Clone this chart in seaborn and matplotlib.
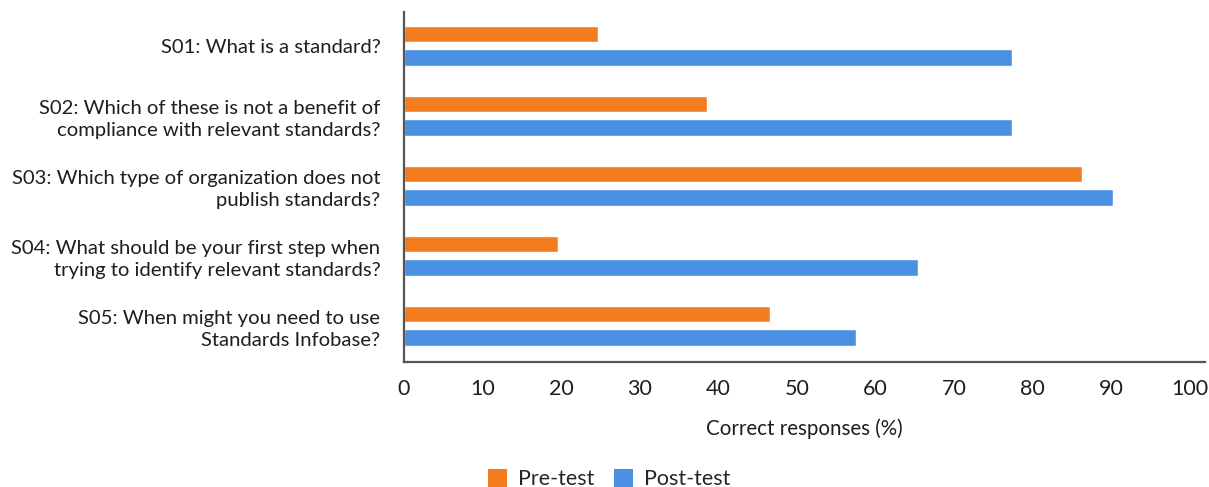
import matplotlib
matplotlib.use("Agg")
import matplotlib.pyplot as plt
import seaborn as sns
import pandas as pd
from matplotlib.patches import Patch

questions = [
    "S01: What is a standard?",
    "S02: Which of these is not a benefit of\ncompliance with relevant standards?",
    "S03: Which type of organization does not\npublish standards?",
    "S04: What should be your first step when\ntrying to identify relevant standards?",
    "S05: When might you need to use\nStandards Infobase?",
]
pre_test = [24.7, 38.5, 86.2, 19.6, 46.5]
post_test = [77.3, 77.3, 90.2, 65.4, 57.5]
series = ["Pre-test", "Post-test"]
colors = ["#F47C20", "#4A90E2"]
x_ticks = [0, 10, 20, 30, 40, 50, 60, 70, 80, 90, 100]

df = pd.DataFrame({
    "question": questions * 2,
    "value": pre_test + post_test,
    "test": [series[0]] * len(questions) + [series[1]] * len(questions),
})

sns.set_theme(style="white")
plt.rcParams["font.family"] = ["Lato", "DejaVu Sans"]
text_color = "#1e1e1e"

fig = plt.figure(figsize=(12.09, 4.87), dpi=100)
ax = fig.add_axes([404 / 1209, 1 - 362 / 487, (1205 - 404) / 1209, (362 - 12) / 487])

sns.barplot(data=df, x="value", y="question", hue="test", orient="h",
            palette=colors, width=0.66, gap=0.27, legend=False, ax=ax,
            saturation=1.0)

ax.set_xlim(0, 101.9)
ax.set_ylim(4.52, -0.48)
ax.set_xticks(x_ticks)
ax.set_xticklabels([str(t) for t in x_ticks], fontsize=15.5, color=text_color)
ax.tick_params(axis="y", labelsize=14.6, colors=text_color, length=0, pad=17)
ax.tick_params(axis="x", length=0, pad=12)
for lbl in ax.get_yticklabels():
    lbl.set_horizontalalignment("right")
    lbl.set_multialignment("right")
    lbl.set_linespacing(1.32)
ax.set_ylabel("")
ax.set_xlabel("Correct responses (%)", fontsize=14.8, color=text_color, labelpad=14)

for side in ["top", "right"]:
    ax.spines[side].set_visible(False)
for side in ["left", "bottom"]:
    ax.spines[side].set_color("#555555")
    ax.spines[side].set_linewidth(1.6)

handles = [Patch(facecolor=c, edgecolor="none", label=s) for c, s in zip(colors, series)]
fig.legend(handles=handles, loc="center", bbox_to_anchor=(609 / 1209, 1 - 479 / 487),
           ncol=2, frameon=False, fontsize=15.5, handlelength=0.9, handleheight=0.9,
           handletextpad=0.5, columnspacing=0.9)

fig.savefig("out.png", dpi=100)
